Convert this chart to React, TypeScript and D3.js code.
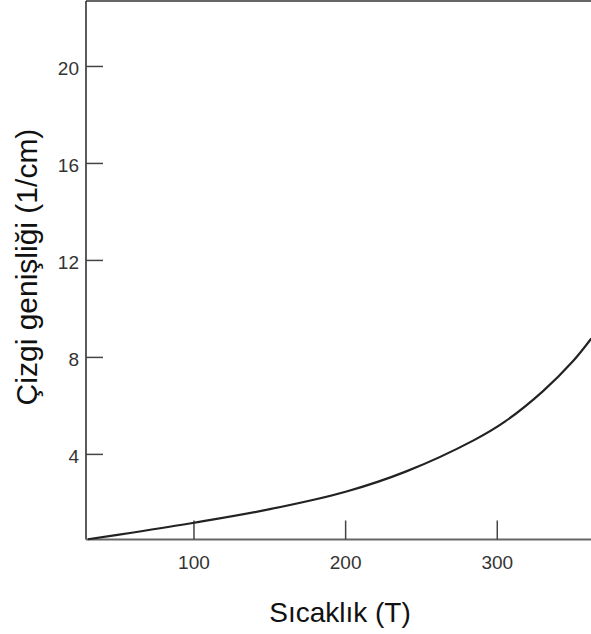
import React, { useEffect, useRef } from 'react';
import * as d3 from 'd3';

// temperature (T) and line width (1/cm)
const temps = [30, 60, 100, 150, 200, 240, 285, 305, 330, 350, 362];
const widths = [0.5, 0.78, 1.18, 1.74, 2.46, 3.3, 4.6, 5.35, 6.6, 7.85, 8.78];
const xTicks = [100, 200, 300];
const yTicks = [4, 8, 12, 16, 20];

const W = 591;
const H = 634;
const FONT = '"Liberation Sans", Arial, sans-serif';

const App = () => {
    const svgRef = useRef(null);

    useEffect(() => {
        const svg = d3.select(svgRef.current);
        svg.selectAll('*').remove();

        const left = 86;
        const right = 591;
        const top = 1;
        const bottom = 539.5;

        const x = d3.scaleLinear().domain([28.8, 361.8]).range([left, right]);
        const y = d3.scaleLinear().domain([0.49, 22.7]).range([bottom, top]);

        // frame: left axis, top line, bottom axis
        svg.append('line')
            .attr('x1', left).attr('x2', left).attr('y1', top).attr('y2', bottom)
            .attr('stroke', '#333').attr('stroke-width', 1.6);
        svg.append('line')
            .attr('x1', left).attr('x2', right).attr('y1', top).attr('y2', top)
            .attr('stroke', '#333').attr('stroke-width', 1.6);
        svg.append('line')
            .attr('x1', left).attr('x2', right).attr('y1', bottom).attr('y2', bottom)
            .attr('stroke', '#666').attr('stroke-width', 2);

        // ticks point inward
        const xg = svg.append('g').selectAll('g').data(xTicks).enter().append('g');
        xg.append('line')
            .attr('x1', d => x(d)).attr('x2', d => x(d))
            .attr('y1', bottom).attr('y2', bottom - 19)
            .attr('stroke', '#444').attr('stroke-width', 1.5);
        xg.append('text')
            .attr('x', d => x(d)).attr('y', bottom + 29)
            .attr('text-anchor', 'middle')
            .attr('font-family', FONT).attr('font-size', 19).attr('fill', '#333')
            .text(d => d);

        const yg = svg.append('g').selectAll('g').data(yTicks).enter().append('g');
        yg.append('line')
            .attr('x1', left).attr('x2', left + 17)
            .attr('y1', d => y(d)).attr('y2', d => y(d))
            .attr('stroke', '#444').attr('stroke-width', 1.5);
        yg.append('text')
            .attr('x', left - 7).attr('y', d => y(d) + 9)
            .attr('text-anchor', 'end')
            .attr('font-family', FONT).attr('font-size', 19).attr('fill', '#333')
            .text(d => d);

        const line = d3.line<number>()
            .x((d, i) => x(temps[i]))
            .y(d => y(d))
            .curve(d3.curveCatmullRom);
        svg.append('path')
            .datum(widths)
            .attr('d', line)
            .attr('fill', 'none')
            .attr('stroke', '#222')
            .attr('stroke-width', 2.2);

        svg.append('text')
            .attr('x', 340).attr('y', 622)
            .attr('text-anchor', 'middle')
            .attr('font-family', FONT).attr('font-size', 28).attr('fill', '#111')
            .text('Sıcaklık (T)');

        svg.append('text')
            .attr('transform', 'translate(37,267) rotate(-90)')
            .attr('text-anchor', 'middle')
            .attr('font-family', FONT).attr('font-size', 30).attr('fill', '#111')
            .text('Çizgi genişliği (1/cm)');
    }, []);

    return (
        <svg ref={svgRef} width={W} height={H}
            style={{ position: 'absolute', left: 0, top: 0, background: '#fff' }}></svg>
    );
};

export default App;
